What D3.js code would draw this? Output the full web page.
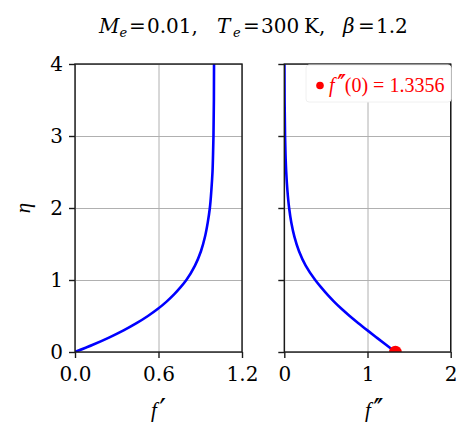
<!DOCTYPE html>
<html><head><meta charset="utf-8">
<script src="https://cdn.jsdelivr.net/npm/d3@7"></script>
<style>body{margin:0;background:#fff}</style></head>
<body>
<script>
// ---- data ----
const eta          = [0, 0.1, 0.2, 0.3, 0.4, 0.5, 0.6, 0.7, 0.8, 0.9, 1.0, 1.2, 1.4, 1.6, 1.8, 2.0, 2.25, 2.5, 2.75, 3.0, 3.5, 4.0];
const fPrime       = [0, 0.128, 0.244, 0.349, 0.442, 0.524, 0.596, 0.658, 0.712, 0.759, 0.800, 0.862, 0.905, 0.934, 0.954, 0.969, 0.980, 0.988, 0.992, 0.995, 0.998, 0.999];
const fDoublePrime = [1.3356, 1.2226, 1.1106, 0.9996, 0.8906, 0.7856, 0.6876, 0.5976, 0.5156, 0.4406, 0.3716, 0.257, 0.177, 0.122, 0.084, 0.058, 0.037, 0.023, 0.0145, 0.009, 0.0036, 0.0014];
const wallShear    = [1.3356];
const xTicksLeft   = [0, 0.6, 1.2];
const xTicksRight  = [0, 1, 2];
const yTicks       = [0, 1, 2, 3, 4];

const W = 474, H = 438;
const plotTop = 64, plotBottom = 352;
const svg = d3.select("body").append("svg").attr("width", W).attr("height", H)
  .style("font-family", "'DejaVu Serif', serif");

const y = d3.scaleLinear().domain([0, 4]).range([plotBottom, plotTop]);
const panels = [
  {x0: 75, x1: 242, dom: [0, 1.2], ticks: xTicksLeft, fmt: d3.format(".1f"), vals: fPrime, ylab: true, id: "a"},
  {x0: 284.3, x1: 450.7, dom: [0, 2], ticks: xTicksRight, fmt: d3.format("d"), vals: fDoublePrime, ylab: false, id: "b"}
];
const mathFont = "'Liberation Serif', 'DejaVu Serif', serif";
const primeFont = "'DejaVu Sans', sans-serif";

panels.forEach((p, i) => {
  const x = d3.scaleLinear().domain(p.dom).range([p.x0, p.x1]);
  const g = svg.append("g");
  svg.append("clipPath").attr("id", "clip" + p.id).append("rect")
    .attr("x", p.x0).attr("y", plotTop).attr("width", p.x1 - p.x0).attr("height", plotBottom - plotTop);
  // grid
  g.append("g").attr("transform", `translate(0,${plotBottom})`)
    .call(d3.axisBottom(x).tickValues(p.ticks).tickSize(-(plotBottom - plotTop)).tickFormat(""))
    .call(s => s.select(".domain").remove())
    .call(s => s.selectAll("line").attr("stroke", "#b0b0b0").attr("stroke-width", 1));
  g.append("g").attr("transform", `translate(${p.x0},0)`)
    .call(d3.axisLeft(y).tickValues(yTicks).tickSize(-(p.x1 - p.x0)).tickFormat(""))
    .call(s => s.select(".domain").remove())
    .call(s => s.selectAll("line").attr("stroke", "#b0b0b0").attr("stroke-width", 1));
  // curve
  const pts = eta.map((e, k) => [p.vals[k], e]);
  g.append("path").datum(pts)
    .attr("clip-path", `url(#clip${p.id})`)
    .attr("fill", "none").attr("stroke", "#0000ff").attr("stroke-width", 2.6)
    .attr("d", d3.line().x(d => x(d[0])).y(d => y(d[1])).curve(d3.curveMonotoneY));
  if (i === 1) {
    g.selectAll("circle.wall").data(wallShear).enter().append("circle")
      .attr("clip-path", `url(#clip${p.id})`)
      .attr("cx", d => x(d)).attr("cy", y(0)).attr("r", 6.3).attr("fill", "#ff0000");
  }
  // frame
  g.append("rect").attr("x", p.x0).attr("y", plotTop).attr("width", p.x1 - p.x0).attr("height", plotBottom - plotTop)
    .attr("fill", "none").attr("stroke", "#1a1a1a").attr("stroke-width", 1.4);
  // x axis ticks
  g.append("g").attr("transform", `translate(0,${plotBottom})`)
    .call(d3.axisBottom(x).tickValues(p.ticks).tickSize(6).tickSizeOuter(0).tickPadding(9).tickFormat(p.fmt))
    .call(s => s.select(".domain").remove())
    .call(s => s.selectAll("line").attr("stroke", "#1a1a1a").attr("stroke-width", 1.4))
    .call(s => s.selectAll("text").attr("font-size", 20).attr("font-family", "'DejaVu Serif', serif").attr("fill", "#000"));
  // y axis ticks
  g.append("g").attr("transform", `translate(${p.x0},0)`)
    .call(d3.axisLeft(y).tickValues(yTicks).tickSize(6).tickSizeOuter(0).tickPadding(6).tickFormat(p.ylab ? d3.format("d") : ""))
    .call(s => s.select(".domain").remove())
    .call(s => s.selectAll("line").attr("stroke", "#1a1a1a").attr("stroke-width", 1.4))
    .call(s => s.selectAll("text").attr("font-size", 20).attr("font-family", "'DejaVu Serif', serif").attr("fill", "#000"));
});

// helper: italic f followed by n primes
function fPrimes(sel, n, size) {
  sel.append("tspan").attr("font-style", "italic").attr("font-family", mathFont).text("f");
  sel.append("tspan").attr("font-family", primeFont).attr("font-size", size).attr("dx", 2.5).attr("dy", 3)
    .attr("letter-spacing", -3.5).text("\u2032".repeat(n));
}

// x labels
const xl1 = svg.append("text").attr("x", 151).attr("y", 417).attr("font-size", 21);
fPrimes(xl1, 1, 30);
const xl2 = svg.append("text").attr("x", 365).attr("y", 417).attr("font-size", 21);
fPrimes(xl2, 2, 30);

// y label
svg.append("text").attr("transform", "translate(30,208) rotate(-90)")
  .attr("text-anchor", "middle").attr("font-family", mathFont).attr("font-style", "italic")
  .attr("font-size", 21).text("\u03b7");

// title (pieces placed as in the reference)
const titleParts = [
  {x: 99, t: "M", it: true}, {x: 119.5, t: "e", it: true, sub: true}, {x: 129, t: "="}, {x: 147, t: "0.01,"},
  {x: 217, t: "T", it: true}, {x: 233, t: "e", it: true, sub: true}, {x: 243, t: "="}, {x: 261, t: "300"},
  {x: 304, t: "K,"}, {x: 343, t: "\u03b2", it: true}, {x: 358, t: "="}, {x: 376, t: "1.2"}
];
const t = svg.append("text").attr("font-family", "'DejaVu Serif', serif");
titleParts.forEach(p => {
  t.append("tspan").attr("x", p.x).attr("y", p.sub ? 37 : 33)
    .attr("font-style", p.it ? "italic" : "normal").attr("font-size", p.sub ? 13 : 20).text(p.t);
});

// legend
const lg = svg.append("g");
lg.append("rect").attr("x", 306).attr("y", 65).attr("width", 145).attr("height", 37).attr("rx", 3)
  .attr("fill", "#fff").attr("stroke", "#f0f0f0").attr("stroke-width", 1);
lg.append("circle").attr("cx", 320).attr("cy", 85.5).attr("r", 3.8).attr("fill", "#ff0000");
const lt = lg.append("text").attr("x", 329).attr("y", 92).attr("fill", "#ff0000").attr("font-size", 20);
fPrimes(lt, 2, 28);
lt.append("tspan").attr("font-family", mathFont).attr("dy", -3).attr("dx", 2).text("(0) = " + wallShear[0].toFixed(4));
</script>
</body></html>
